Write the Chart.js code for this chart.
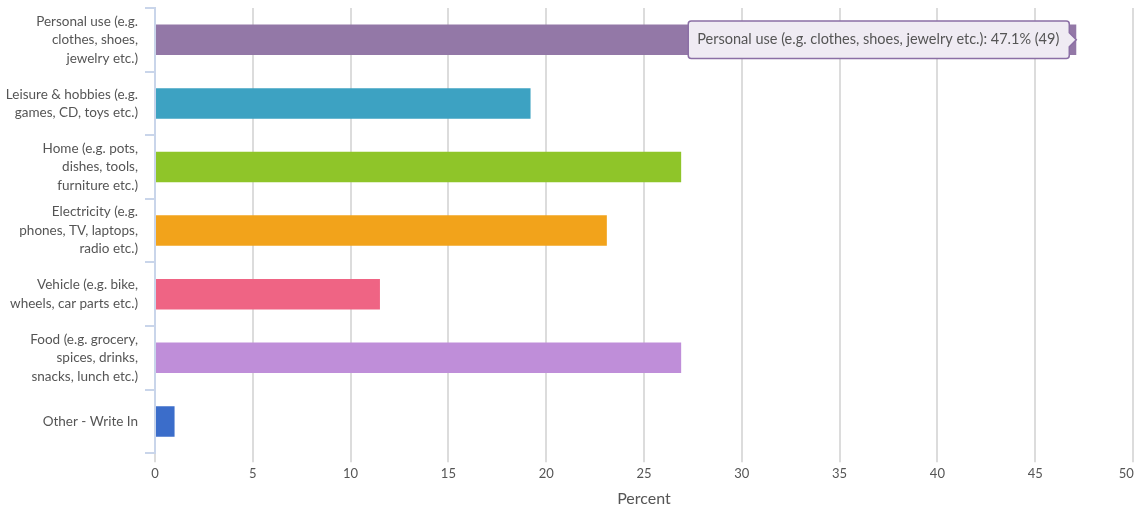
<!DOCTYPE html>
<html>
<head>
<meta charset="utf-8">
<script src="https://cdn.jsdelivr.net/npm/chart.js@4"></script>
<style>
  html, body { margin: 0; padding: 0; background: #fff; }
  #wrap { width: 1137px; height: 508px; position: relative; }
</style>
</head>
<body>
<div id="wrap"><canvas id="bar_chart"></canvas></div>
<script>
// categories (multi-line labels) and the share of answers per category
var categories = [
    ['Personal use (e.g.', 'clothes, shoes,', 'jewelry etc.)'],
    ['Leisure & hobbies (e.g.', 'games, CD, toys etc.)'],
    ['Home (e.g. pots,', 'dishes, tools,', 'furniture etc.)'],
    ['Electricity (e.g.', 'phones, TV, laptops,', 'radio etc.)'],
    ['Vehicle (e.g. bike,', 'wheels, car parts etc.)'],
    ['Food (e.g. grocery,', 'spices, drinks,', 'snacks, lunch etc.)'],
    ['Other - Write In']
];
var percents = [47.1, 19.2, 26.9, 23.1, 11.5, 26.9, 1.0];
var counts = [49, 20, 28, 24, 12, 28, 1];
var xTicks = [0, 5, 10, 15, 20, 25, 30, 35, 40, 45, 50];

var BarColors = ['#9378a7', '#3da2c2', '#8fc529', '#f2a31b', '#ef6484', '#bf8ed9', '#3b6dca'];

const CTX = document.getElementById('bar_chart');

let barChart = new Chart(CTX, {
    type: 'bar',
    data: {
        labels: categories,
        datasets: [{
            data: percents,
            backgroundColor: BarColors,
            hoverBackgroundColor: BarColors,
            borderWidth: 0,
            barPercentage: 0.48,
            categoryPercentage: 1
        }]
    },
    options: {
        indexAxis: 'y',
        responsive: true,
        maintainAspectRatio: false,
        animation: false,
        layout: { padding: { top: 8, bottom: 0, left: 0, right: 4 } },
        plugins: {
            legend: { display: false },
            tooltip: {
                enabled: true,
                xAlign: 'right',
                yAlign: 'center',
                backgroundColor: '#efebf3',
                borderColor: '#8b6fa5',
                borderWidth: 1.5,
                cornerRadius: 3,
                caretSize: 7,
                caretPadding: 0,
                padding: { left: 9, right: 10, top: 10, bottom: 10 },
                displayColors: false,
                bodyColor: '#555',
                bodyFont: { family: 'Lato', size: 14.5 },
                callbacks: {
                    title: function () { return ''; },
                    label: function (ctx) {
                        var i = ctx.dataIndex;
                        return categories[i].join(' ') + ': ' + percents[i] + '% (' + counts[i] + ')';
                    }
                }
            }
        },
        scales: {
            x: {
                min: 0,
                max: 50,
                afterBuildTicks: function (scale) {
                    scale.ticks = xTicks.map(function (v) { return { value: v }; });
                },
                afterFit: function (scale) {
                    scale.paddingRight = 0;
                    scale.paddingLeft = 0;
                },
                grid: {
                    color: '#dcdcdc',
                    lineWidth: 2,
                    tickLength: 9,
                    tickColor: '#dcdcdc'
                },
                border: { display: false },
                ticks: {
                    color: '#555',
                    padding: 4,
                    font: { family: 'Lato', size: 13 },
                    // keep the last label inside the canvas
                    callback: function (v) {
                        return v === 50 ? '50    ' : String(v);
                    }
                },
                title: {
                    display: true,
                    text: 'Percent',
                    color: '#555',
                    padding: { top: 3, bottom: 0 },
                    font: { family: 'Lato', size: 16 }
                }
            },
            y: {
                offset: true,
                afterFit: function (scale) {
                    scale.width = 155;
                    scale.paddingTop = 0;
                    scale.paddingBottom = 0;
                },
                grid: {
                    offset: true,
                    drawOnChartArea: false,
                    color: '#c9d5ea',
                    tickLength: 10,
                    lineWidth: 2
                },
                border: { color: '#c9d5ea', width: 2 },
                ticks: {
                    color: '#555',
                    padding: 7,
                    font: { family: 'Lato', size: 13.5, lineHeight: 1.37 }
                }
            }
        }
    }
});

// show the tooltip for the first bar
var firstBar = barChart.getDatasetMeta(0).data[0];
barChart.setActiveElements([{ datasetIndex: 0, index: 0 }]);
barChart.tooltip.setActiveElements([{ datasetIndex: 0, index: 0 }], { x: firstBar.x, y: firstBar.y });
barChart.update();
</script>
</body>
</html>
